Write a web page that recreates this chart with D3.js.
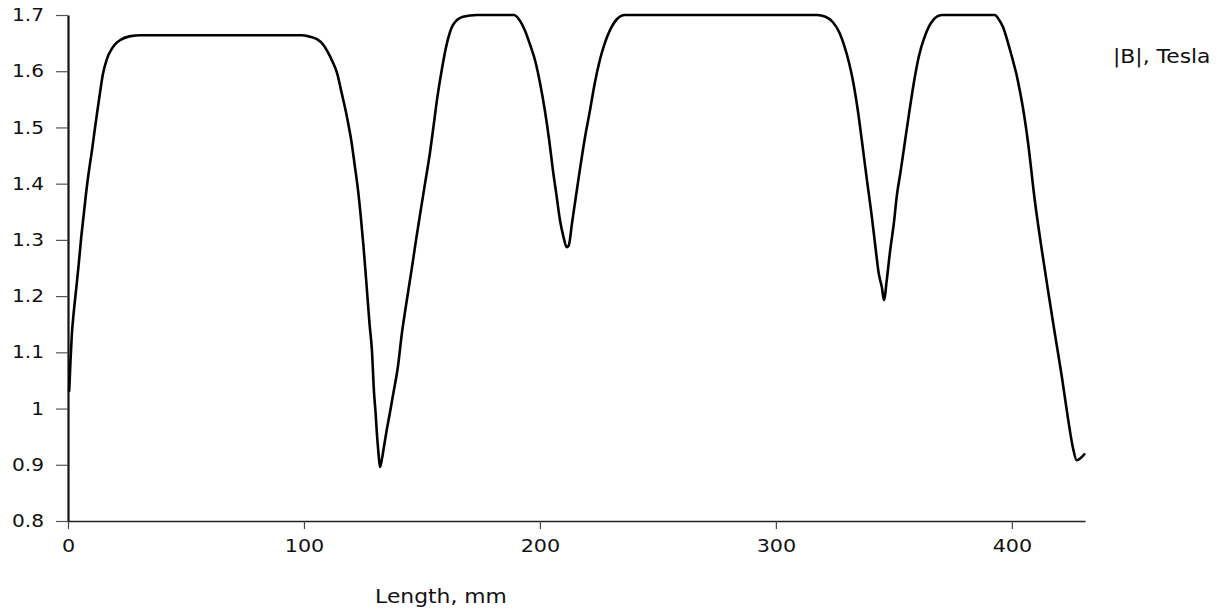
<!DOCTYPE html>
<html><head><meta charset="utf-8">
<script src="https://cdn.jsdelivr.net/npm/d3@7"></script>
<style>
html,body{margin:0;padding:0;background:#fff;}
text{font-family:"DejaVu Sans",Verdana,sans-serif;fill:#111;}
</style></head>
<body>
<svg id="chart" width="1228" height="610"></svg>
<script>
const lengthMm = [0.5,1.0,1.6,2.4,3.4,4.5,5.5,6.8,8,9.3,10.2,11.3,12.3,13.5,14.8,16.5,18.6,20,22,26,31,
  99,102,105.5,108,110,112,114,116,118.2,120,121.6,122.9,124,125.2,126.7,127.8,128.8,129.7,130.4,130.9,131.6,132.2,132.8,133.9,135,136.4,138,139.8,141.5,143.6,145.8,147.5,149,151.3,153.4,155,156.4,158.5,160.6,163.1,167.4,173.3,
  189,191.5,193.6,196,197.9,200,202.1,204,205.5,207,208.5,210,211.3,212.2,213.6,215,216.9,219,221.2,223.3,225.4,227.5,229.7,232.5,236,
  317.4,321,324,327,329,331,332.8,334.7,336.4,338.6,340.3,342,343.6,344.9,345.8,347,348.3,350,351.3,352.8,354.7,356.8,358.9,360.5,363.1,366.1,370.3,
  392.8,394.5,396.2,399.2,402.5,404.7,406.8,409.7,412.7,415.3,418.2,421.2,423.7,425.8,427.5,429.2,431];
const fieldT = [1.03,1.08,1.13,1.17,1.21,1.255,1.30,1.35,1.395,1.435,1.46,1.495,1.525,1.56,1.595,1.622,1.64,1.648,1.655,1.662,1.664,
  1.664,1.662,1.657,1.648,1.635,1.618,1.597,1.561,1.519,1.478,1.43,1.389,1.345,1.29,1.21,1.15,1.104,1.028,0.99,0.956,0.92,0.896,0.905,0.932,0.96,0.992,1.03,1.074,1.134,1.193,1.252,1.30,1.34,1.40,1.455,1.505,1.55,1.605,1.65,1.682,1.697,1.70,
  1.70,1.69,1.673,1.645,1.62,1.58,1.53,1.475,1.424,1.38,1.335,1.305,1.287,1.29,1.33,1.37,1.424,1.48,1.53,1.58,1.62,1.65,1.673,1.692,1.70,
  1.70,1.697,1.688,1.668,1.645,1.615,1.58,1.531,1.478,1.406,1.353,1.294,1.24,1.216,1.193,1.229,1.277,1.33,1.38,1.42,1.475,1.535,1.59,1.625,1.662,1.688,1.70,
  1.70,1.692,1.679,1.638,1.584,1.535,1.475,1.371,1.282,1.211,1.134,1.056,0.985,0.932,0.908,0.912,0.92];
const xTicks = [0,100,200,300,400];
const yTicks = [0.8,0.9,1.0,1.1,1.2,1.3,1.4,1.5,1.6,1.7];
const yTickLabels = ["0.8","0.9","1","1.1","1.2","1.3","1.4","1.5","1.6","1.7"];
const xTitle = "Length, mm";
const yTitle = "|B|, Tesla";

const svg = d3.select("#chart");
const x = d3.scaleLinear().domain([0,431]).range([68,1085]);
const y = d3.scaleLinear().domain([0.8,1.7]).range([521,15]);
const SX = 1.15;

// x axis
const gx = svg.append("g").attr("transform","translate(0,521)")
  .call(d3.axisBottom(x).tickValues(xTicks).tickSize(8).tickSizeOuter(0).tickPadding(10).tickFormat(d3.format("d")));
gx.select(".domain").attr("stroke","#222").attr("stroke-width",1.6);
gx.selectAll(".tick line").attr("stroke","#444").attr("stroke-width",1.2);
gx.selectAll(".tick text").attr("font-size",18).attr("fill","#111")
  .style("font-family","'DejaVu Sans',sans-serif")
  .attr("transform",`scale(${SX},1)`);

// y axis
const gy = svg.append("g").attr("transform","translate(68,0)")
  .call(d3.axisLeft(y).tickValues(yTicks).tickSize(12).tickSizeOuter(0).tickPadding(12)
    .tickFormat((d,i)=>yTickLabels[i]));
gy.select(".domain").attr("stroke","#111").attr("stroke-width",2.2);
gy.selectAll(".tick line").attr("stroke","#555").attr("stroke-width",1.2);
gy.selectAll(".tick text").attr("font-size",17.5).attr("fill","#111")
  .style("font-family","'DejaVu Sans',sans-serif");
gy.selectAll(".tick text").each(function(){
  const t=d3.select(this); const xx=+t.attr("x");
  t.attr("transform",`translate(${xx},0) scale(${SX},1) translate(${-xx},0)`);
});

// line
const pts = lengthMm.map((d,i)=>[d,fieldT[i]]);
svg.append("path").datum(pts)
  .attr("fill","none").attr("stroke","#000").attr("stroke-width",2.6)
  .attr("stroke-linejoin","round")
  .attr("d", d3.line().curve(d3.curveMonotoneX).x(d=>x(d[0])).y(d=>y(d[1])));

// titles
svg.append("text").attr("x",441).attr("y",603).attr("text-anchor","middle")
  .attr("font-size",19).attr("transform",`translate(441,0) scale(${SX},1) translate(-441,0)`)
  .text(xTitle);
svg.append("text").attr("x",1113).attr("y",63).attr("font-size",19)
  .attr("transform",`translate(1113,0) scale(${SX},1) translate(-1113,0)`)
  .text(yTitle);
</script>
</body></html>
